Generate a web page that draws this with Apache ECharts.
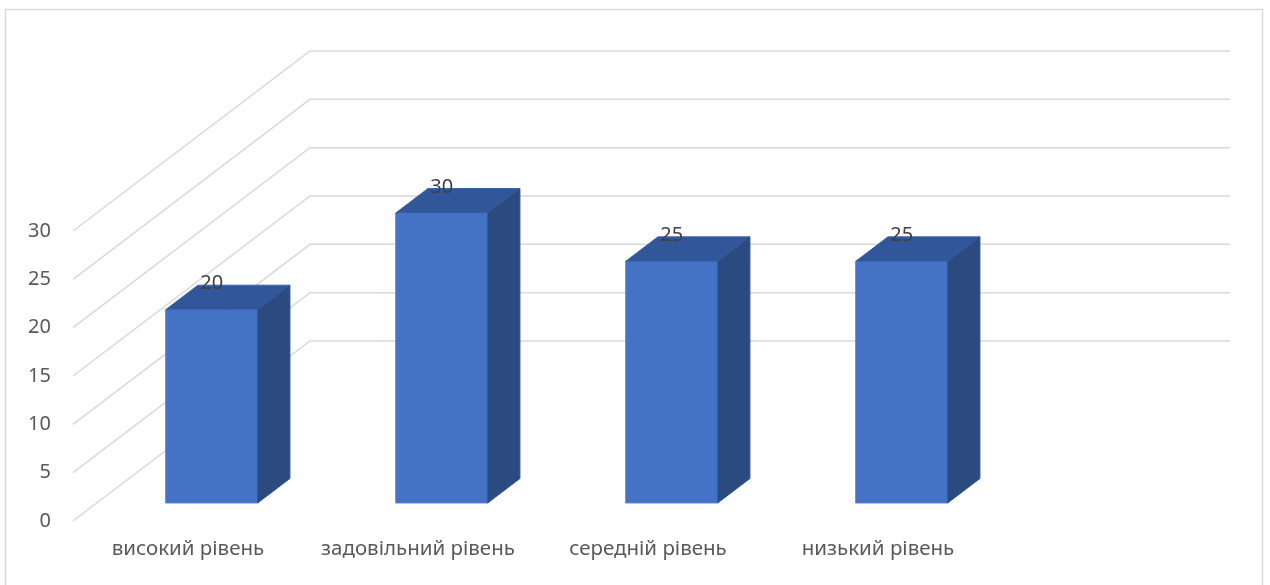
<!DOCTYPE html>
<html>
<head>
<meta charset="utf-8">
<style>
  html, body { margin: 0; padding: 0; background: #ffffff; }
  #chart { width: 1270px; height: 585px; }
</style>
<script src="https://cdn.jsdelivr.net/npm/echarts@6/dist/echarts.min.js"></script>
</head>
<body>
<div id="chart"></div>
<script>
// Рівні та відсотки учнів
const categories = ['високий рівень', 'задовільний рівень', 'середній рівень', 'низький рівень'];
const values = [20, 30, 25, 25];
const yTicks = [0, 5, 10, 15, 20, 25, 30];

// Oblique 3D look: offset of the back wall from the front plane
const WALL = { x: 237, y: -180 };
// Bars sit between these fractions of the wall depth
const BAR_NEAR = 0.10;
const BAR_FAR = 0.236;
const BAR_WIDTH = 0.4;

const COLORS = { front: '#4472C4', top: '#31569A', side: '#2A4A80', grid: '#D9D9D9', text: '#595959', label: '#404040' };
const FONT = '"Noto Sans", "Liberation Sans", sans-serif';

const chart = echarts.init(document.getElementById('chart'), null, { renderer: 'canvas' });

function wallRender(params, api) {
  const v = api.value(1);
  const p = api.coord([0, v]);
  const band = api.size([1, 0])[0];
  const left = p[0] - band / 2;
  const right = left + band * categories.length;
  const y = p[1];
  return {
    type: 'polyline',
    shape: { points: [[left, y], [left + WALL.x, y + WALL.y], [right + WALL.x, y + WALL.y]] },
    style: { stroke: COLORS.grid, lineWidth: 1.5, fill: null },
    silent: true
  };
}

function barRender(params, api) {
  const i = api.value(0);
  const v = api.value(1);
  const top = api.coord([i, v]);
  const base = api.coord([i, 0]);
  const band = api.size([1, 0])[0];
  const w = band * BAR_WIDTH;
  const nx = WALL.x * BAR_NEAR, ny = WALL.y * BAR_NEAR;
  const dx = WALL.x * (BAR_FAR - BAR_NEAR), dy = WALL.y * (BAR_FAR - BAR_NEAR);
  const x0 = top[0] - w / 2 + nx, x1 = x0 + w;
  const yT = top[1] + ny, yB = base[1] + ny;
  return {
    type: 'group',
    children: [
      {
        type: 'polygon',
        shape: { points: [[x0, yT], [x1, yT], [x1, yB], [x0, yB]] },
        style: { fill: COLORS.front, stroke: '#5a86d2', lineWidth: 1 }
      },
      {
        type: 'polygon',
        shape: { points: [[x0, yT], [x1, yT], [x1 + dx, yT + dy], [x0 + dx, yT + dy]] },
        style: { fill: COLORS.top, stroke: '#3d63a8', lineWidth: 1 }
      },
      {
        type: 'polygon',
        shape: { points: [[x1, yT], [x1 + dx, yT + dy], [x1 + dx, yB + dy], [x1, yB]] },
        style: { fill: COLORS.side, stroke: '#33548e', lineWidth: 1 }
      },
      {
        type: 'text',
        style: {
          x: top[0] + nx, y: yT - 26, text: String(v),
          fill: COLORS.label, font: '20px ' + FONT,
          textAlign: 'center', textVerticalAlign: 'middle'
        }
      }
    ]
  };
}

chart.setOption({
  animation: false,
  backgroundColor: '#ffffff',
  graphic: [{
    type: 'rect',
    shape: { x: 5.5, y: 9.5, width: 1257, height: 600 },
    style: { fill: null, stroke: COLORS.grid, lineWidth: 1.5 },
    silent: true
  }],
  grid: { left: 73, top: 231, width: 920, height: 290, containLabel: false },
  xAxis: {
    type: 'category',
    data: categories,
    axisLine: { show: false },
    axisTick: { show: false },
    axisLabel: { color: COLORS.text, fontSize: 20.5, fontFamily: FONT, margin: 18, interval: 0, hideOverlap: false },
    splitLine: { show: false }
  },
  yAxis: {
    type: 'value',
    min: 0, max: 30, interval: 5,
    axisLine: { show: false },
    axisTick: { show: false },
    axisLabel: { color: COLORS.text, fontSize: 20, fontFamily: FONT, margin: 22 },
    splitLine: { show: false }
  },
  series: [
    {
      type: 'custom',
      renderItem: wallRender,
      data: yTicks.map(t => [0, t]),
      silent: true,
      z: 1
    },
    {
      type: 'custom',
      renderItem: barRender,
      data: values.map((v, i) => [i, v]),
      z: 2
    }
  ]
});
</script>
</body>
</html>
